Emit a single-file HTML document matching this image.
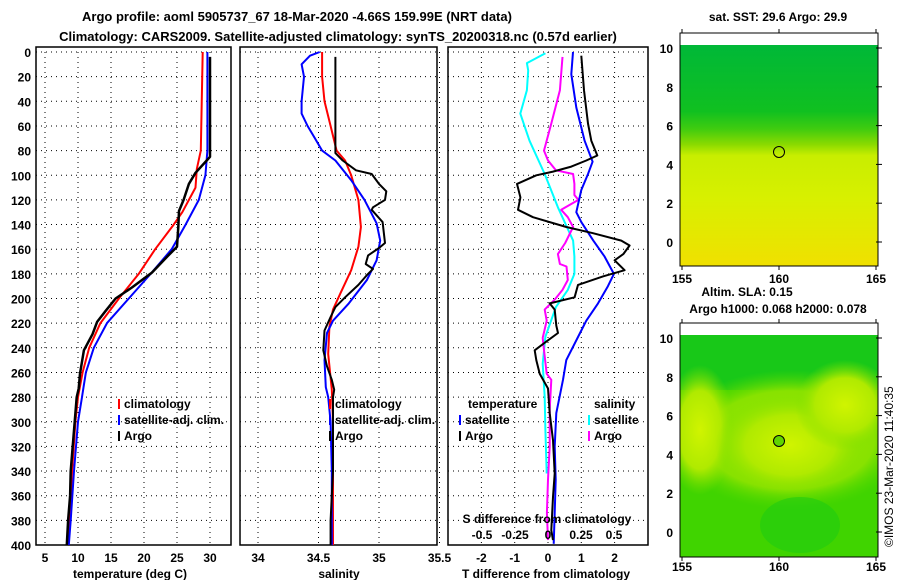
<!DOCTYPE html>
<html><head><meta charset="utf-8">
<style>
html,body{margin:0;padding:0;background:#fff;}
svg{display:block;font-family:"Liberation Sans",Arial,sans-serif;font-weight:bold;}
</style></head>
<body>
<svg id="chart" width="900" height="580" viewBox="0 0 900 580" xmlns="http://www.w3.org/2000/svg">
<defs>
<linearGradient id="sstGrad" x1="0" y1="0" x2="0" y2="1">
<stop offset="0" stop-color="#00b838"/>
<stop offset="0.3" stop-color="#10c020"/>
<stop offset="0.38" stop-color="#40cc10"/>
<stop offset="0.45" stop-color="#8ada00"/>
<stop offset="0.5" stop-color="#c8ee00"/>
<stop offset="0.7" stop-color="#d8f000"/>
<stop offset="1" stop-color="#f0e000"/>
</linearGradient>
<radialGradient id="blob" cx="0.5" cy="0.5" r="0.5">
<stop offset="0" stop-color="#d0f400"/>
<stop offset="0.6" stop-color="#b0ea00"/>
<stop offset="1" stop-color="#80e000" stop-opacity="0"/>
</radialGradient>
<radialGradient id="band" cx="0.5" cy="0.5" r="0.5">
<stop offset="0" stop-color="#a0e800"/>
<stop offset="0.7" stop-color="#88e200"/>
<stop offset="1" stop-color="#50d800" stop-opacity="0"/>
</radialGradient>
<clipPath id="m2clip"><rect x="680" y="335" width="198" height="222"/></clipPath>
</defs>
<g id="titles">
<text x="297" y="21" font-size="13" text-anchor="middle">Argo profile: aoml 5905737_67 18-Mar-2020 -4.66S 159.99E (NRT data)</text>
<text x="338" y="41" font-size="13" text-anchor="middle">Climatology: CARS2009. Satellite-adjusted climatology: synTS_20200318.nc (0.57d earlier)</text>
</g>
<g id="panels"></g>
<g id="maps">
<text x="778" y="21" font-size="12" text-anchor="middle">sat. SST: 29.6 Argo: 29.9</text>
<rect x="680" y="45" width="198" height="221" fill="url(#sstGrad)"/>
<rect x="680" y="33" width="198" height="233" fill="none" stroke="#000"/>
<circle cx="779" cy="152" r="5.5" fill="none" stroke="#000"/>
<text x="747" y="296" font-size="12" text-anchor="middle">Altim. SLA: 0.15</text>
<text x="778" y="313" font-size="12" text-anchor="middle">Argo h1000: 0.068 h2000: 0.078</text>
<g clip-path="url(#m2clip)">
<rect x="680" y="335" width="198" height="222" fill="#40d400"/>
<rect x="680" y="335" width="198" height="55" fill="#18c818"/>
<ellipse cx="790" cy="440" rx="120" ry="70" fill="url(#band)"/>
<ellipse cx="700" cy="430" rx="35" ry="65" fill="url(#blob)"/>
<ellipse cx="790" cy="445" rx="75" ry="50" fill="url(#blob)"/>
<ellipse cx="845" cy="405" rx="50" ry="45" fill="url(#blob)"/>
<ellipse cx="800" cy="525" rx="40" ry="28" fill="#20cc10" opacity="0.6"/>
</g>
<rect x="680" y="323" width="198" height="234" fill="none" stroke="#000"/>
<circle cx="779" cy="441" r="5.5" fill="#60d400" stroke="#000"/>
<text transform="translate(893,547) rotate(-90)" font-size="12" font-weight="normal">©IMOS 23-Mar-2020 11:40:35</text>
</g>
</svg>
<script>
// ---- data ----
const depthTicks = [0,20,40,60,80,100,120,140,160,180,200,220,240,260,280,300,320,340,360,380,400];
const tempTicks = [5,10,15,20,25,30];
const salTicks = [34,34.5,35,35.5];
const tdiffTicks = [-2,-1,0,1,2];
const sdiffTicks = [-0.5,-0.25,0,0.25,0.5];
const sdiffLabels = ['-0.5','-0.25','0','0.25','0.5'];
const lonTicks = [155,160,165];
const latTicks = [0,2,4,6,8,10];

const tArgoDepth = [4,85,88,98,107,120,129,142,158,165,179,185,191,200,210,219,229,242,261,273,280,300,320,340,360,380,400];
const tArgo = [30.0,30.0,29.5,27.8,26.8,26.0,25.3,25.2,25.0,23.7,21.2,19.7,18.2,15.7,14.2,12.9,12.2,10.9,10.3,10.1,9.8,9.5,9.2,8.9,8.8,8.5,8.3];
const tClimDepth = [0,80,95,110,120,130,140,160,180,200,220,240,260,280,300,340,380,400];
const tClim = [28.9,28.6,28.0,27.8,26.8,25.8,24.5,21.7,19.2,16.2,13.4,11.7,10.7,10.0,9.6,9.1,8.7,8.5];
const tSatDepth = [0,80,100,120,140,160,180,200,220,240,260,270,280,300,340,380,400];
const tSat = [29.6,29.6,29.3,28.3,26.3,24.2,21.0,17.7,14.4,12.4,11.2,10.9,10.6,10.0,9.4,8.9,8.6];

const sArgoDepth = [4,82,88,96,99,107,113,120,126,128,138,155,159,165,172,176,181,189,199,207,215,226,242,255,266,274,280,340,380,400];
const sArgo = [34.64,34.64,34.70,34.81,34.94,35.0,35.06,35.05,34.95,34.94,35.03,35.05,35.0,34.91,34.89,34.95,34.9,34.83,34.72,34.64,34.6,34.55,34.54,34.57,34.61,34.63,34.62,34.62,34.6,34.6];
const sClimDepth = [0,20,40,60,80,88,100,120,142,158,177,196,209,223,245,274,300,380,400];
const sClim = [34.53,34.53,34.55,34.6,34.65,34.72,34.77,34.83,34.85,34.83,34.77,34.68,34.62,34.59,34.58,34.61,34.62,34.62,34.62];
const sSatDepth = [0,3,10,20,40,50,60,70,80,88,104,120,139,153,169,185,204,218,228,250,272,280,300,340,400];
const sSat = [34.51,34.43,34.36,34.38,34.36,34.36,34.41,34.47,34.53,34.64,34.77,34.88,34.98,35.01,34.98,34.9,34.75,34.62,34.57,34.55,34.56,34.58,34.6,34.61,34.61];

const dtArgoDepth = [3,31,58,72,84,88,93,97,100,107,118,128,134,142,147,153,157,164,169,177,182,189,199,204,209,222,228,235,242,250,261,273,293,315,342,361,388,396];
const dtArgo = [1.0,1.08,1.2,1.3,1.48,1.15,0.7,0.15,-0.35,-0.93,-0.83,-0.9,-0.45,0.55,1.35,2.2,2.45,2.26,2.0,2.3,1.66,0.9,0.8,0.05,0.2,0.25,0.3,-0.05,-0.4,-0.35,-0.25,0,0.05,0.15,0.2,0.15,0.1,0.15];
const dtSatDepth = [0,18,45,72,89,99,112,130,138,153,166,180,190,204,218,226,250,266,293,320,347,374,399];
const dtSat = [0.75,0.7,0.85,1.1,1.34,1.2,1.0,0.85,1.0,1.36,1.7,1.98,1.8,1.5,1.15,1.0,0.55,0.45,0.25,0.2,0.23,0.2,0.17];
const dsSatDepth = [1,9,15,31,50,72,99,126,153,166,180,193,207,231,253,280,307,342];
const dsSat = [-0.02,-0.16,-0.15,-0.16,-0.21,-0.14,-0.025,0.075,0.19,0.2,0.2,0.15,0.06,-0.02,-0.04,-0.025,-0.02,-0.01];
const dsArgoDepth = [4,31,58,80,88,96,99,107,116,120,128,134,142,155,164,172,174,185,193,201,209,218,232,242,261,266,290,320,347,374,396];
const dsArgo = [0.11,0.09,0.025,-0.03,0,0.06,0.19,0.2,0.2,0.23,0.1,0.15,0.19,0.13,0.075,0.09,0.14,0.15,0.11,0.05,-0.025,-0.01,-0.04,-0.03,-0.01,0.025,0.013,0.013,0,-0.008,0];

// ---- scales ----
const Y0 = 52, Y1 = 545;
const yD = d => Y0 + d * (Y1 - Y0) / 400;
const xT = t => 45 + (t - 5) * 6.6;
const xS = s => 258 + (s - 34) * 121;
const xDT = t => 548 + t * 33.3;
const xDS = s => 548 + s * 132;
const mapX = lon => 682 + (lon - 155) * 19.4;
const map1Y = lat => 48 + (10 - lat) * 19.4;
const map2Y = lat => 338 + (10 - lat) * 19.4;

const NS = 'http://www.w3.org/2000/svg';
const root = document.getElementById('panels');
function mk(tag, attrs, parent) {
  const e = document.createElementNS(NS, tag);
  for (const k in attrs) e.setAttribute(k, attrs[k]);
  (parent || root).appendChild(e);
  return e;
}
function txt(x, y, s, size, anchor, parent) {
  const t = mk('text', {x: x, y: y, 'font-size': size, 'text-anchor': anchor}, parent);
  t.textContent = s;
  return t;
}

function panel(name, x0, x1, xTicks, xf, labels, showDepth) {
  const g = mk('g', {});
  
  
  depthTicks.forEach(d => {
    const gl = mk('line', {x1: x0, x2: x1, y1: yD(d), y2: yD(d), stroke: '#000', 'stroke-dasharray': '1 4'}, g);
    
    
    if (showDepth) {
      const t = txt(31, yD(d) + 5, String(d), 12, 'end', g);
      
      
    }
  });
  xTicks.forEach((v, i) => {
    const gl = mk('line', {x1: xf(v), x2: xf(v), y1: Y0, y2: Y1, stroke: '#000', 'stroke-dasharray': '1 4'}, g);
    
    
    if (labels) {
      const t = txt(xf(v), 562, labels[i], 12, 'middle', g);
      
      
    }
  });
  const fr = mk('rect', {x: x0, y: Y0 - 5, width: x1 - x0, height: Y1 - Y0 + 5, fill: 'none', stroke: '#000', 'stroke-width': 1.5}, g);
  
  
  return g;
}
function series(g, name, depths, vals, xf, color, w) {
  const pts = depths.map((d, i) => xf(vals[i]).toFixed(1) + ',' + yD(d).toFixed(1)).join(' ');
  const p = mk('polyline', {points: pts, fill: 'none', stroke: color, 'stroke-width': w, 'stroke-linejoin': 'round'}, g);
  
  
}
function legend(g, x, y, color, label) {
  const m = mk('line', {x1: x, x2: x, y1: y - 9, y2: y + 1, stroke: color, 'stroke-width': 2}, g);
  
  
  const t = txt(x + 5, y, label, 12, 'start', g);
  
  
}

// Panel 1 temperature
const p1 = panel('temperature-panel', 36, 231, tempTicks, xT, tempTicks.map(String), true);
series(p1, 'temperature-climatology-line', tClimDepth, tClim, xT, '#ff0000', 2);
series(p1, 'temperature-satellite-line', tSatDepth, tSat, xT, '#0000ff', 2);
series(p1, 'temperature-argo-line', tArgoDepth, tArgo, xT, '#000000', 2.5);
legend(p1, 119, 408, '#ff0000', 'climatology');
legend(p1, 119, 424, '#0000ff', 'satellite-adj. clim.');
legend(p1, 119, 440, '#000000', 'Argo');
const a1 = txt(130, 578, 'temperature (deg C)', 12, 'middle', p1);



// Panel 2 salinity
const p2 = panel('salinity-panel', 240, 437, salTicks, xS, ['34', '34.5', '35', '35.5'], false);
series(p2, 'salinity-climatology-line', sClimDepth, sClim, xS, '#ff0000', 2);
series(p2, 'salinity-satellite-line', sSatDepth, sSat, xS, '#0000ff', 2);
series(p2, 'salinity-argo-line', sArgoDepth, sArgo, xS, '#000000', 2);
legend(p2, 330, 408, '#ff0000', 'climatology');
legend(p2, 330, 424, '#0000ff', 'satellite-adj. clim.');
legend(p2, 330, 440, '#000000', 'Argo');
const a2 = txt(339, 578, 'salinity', 12, 'middle', p2);



// Panel 3 differences
const p3 = panel('difference-panel', 448, 648, tdiffTicks, xDT, tdiffTicks.map(String), false);
series(p3, 'salinity-satellite-diff-line', dsSatDepth, dsSat, xDS, '#00ffff', 2);
series(p3, 'salinity-argo-diff-line', dsArgoDepth, dsArgo, xDS, '#ff00ff', 2);
series(p3, 'temperature-satellite-diff-line', dtSatDepth, dtSat, xDT, '#0000ff', 2);
series(p3, 'temperature-argo-diff-line', dtArgoDepth, dtArgo, xDT, '#000000', 2);
const lt = txt(468, 408, 'temperature', 12, 'start', p3);


const ls = txt(594, 408, 'salinity', 12, 'start', p3);


legend(p3, 460, 424, '#0000ff', 'satellite');
legend(p3, 460, 440, '#000000', 'Argo');
legend(p3, 589, 424, '#00ffff', 'satellite');
legend(p3, 589, 440, '#ff00ff', 'Argo');
const st = txt(547, 523, 'S difference from climatology', 12, 'middle', p3);


sdiffTicks.forEach((v, i) => {
  const t = txt(xDS(v), 539, sdiffLabels[i], 12, 'middle', p3);
  
  
});
const a3 = txt(546, 578, 'T difference from climatology', 12, 'middle', p3);



// map axes
const mg = document.getElementById('maps');
[[map1Y, 33, 266, 283], [map2Y, 323, 557, 571]].forEach(([yf, top, bot, ly]) => {
  lonTicks.forEach(l => {
    const t = txt(mapX(l), ly, String(l), 12, 'middle', mg);
    
    
    const a = mk('line', {x1: mapX(l), x2: mapX(l), y1: bot, y2: bot + 4, stroke: '#000'}, mg);
    
    
    const b = mk('line', {x1: mapX(l), x2: mapX(l), y1: top, y2: top - 4, stroke: '#000'}, mg);
    
    
  });
  latTicks.forEach(l => {
    const t = txt(673, yf(l) + 5, String(l), 12, 'end', mg);
    
    
    const a = mk('line', {x1: 876, x2: 882, y1: yf(l), y2: yf(l), stroke: '#000'}, mg);
    
    
  });
});
</script>
</body></html>
